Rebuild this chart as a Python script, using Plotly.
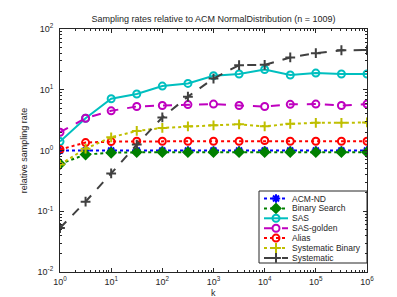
import numpy as np
import plotly.graph_objects as go

k = [1, 3.1623, 10, 31.623, 100, 316.23, 1000, 3162.3, 1e4, 31623, 1e5, 316228, 1e6]

acm_nd = [1.0, 1.0, 1.0, 1.0, 1.0, 1.0, 1.0, 1.0, 1.0, 1.0, 1.0, 1.0, 1.0]
binary_search = [0.6, 0.86, 0.92, 0.94, 0.94, 0.94, 0.94, 0.94, 0.94, 0.94, 0.94, 0.94, 0.94]
sas = [1.4, 3.4, 7.1, 8.5, 11.5, 12.7, 17.0, 18.2, 21.5, 17.5, 18.8, 18.2, 18.2]
sas_golden = [2.0, 3.4, 4.5, 5.3, 5.5, 5.7, 5.8, 5.5, 5.3, 5.75, 5.8, 5.5, 5.8]
alias = [1.04, 1.35, 1.4, 1.42, 1.42, 1.42, 1.42, 1.42, 1.46, 1.42, 1.42, 1.42, 1.42]
systematic_binary = [0.59, 1.07, 1.65, 2.1, 2.35, 2.5, 2.6, 2.7, 2.5, 2.75, 2.85, 2.85, 2.9]
systematic = [0.053, 0.144, 0.42, 1.25, 3.5, 7.7, 15.3, 25.4, 25.7, 34, 40, 44.7, 45]

series = [
    ("ACM-ND", acm_nd, "#0000FF", "dot", "asterisk-open"),
    ("Binary Search", binary_search, "#008000", "dot", "diamond"),
    ("SAS", sas, "#00BFBF", "solid", "circle-open"),
    ("SAS-golden", sas_golden, "#BF00BF", "dash", "circle-open"),
    ("Alias", alias, "#FF0000", "dot", "circle-open"),
    ("Systematic Binary", systematic_binary, "#BFBF00", "dot", "cross-thin-open"),
    ("Systematic", systematic, "#404040", "dash", "cross-thin-open"),
]

W, H = 397, 297
L, R, T, B = 52, 359, 21, 264

fig = go.Figure()
for name, vals, col, dash, sym in series:
    fig.add_trace(go.Scatter(
        x=k, y=vals, name=name, mode="lines+markers", showlegend=False,
        line=dict(color=col, width=2, dash=dash),
        marker=dict(symbol=sym, size=7, color=col, line=dict(color=col, width=2)),
    ))

# custom compact legend drawn in an overlay axis measured in pixels
LG_X0, LG_X1, LG_Y0, LG_Y1 = 251, 359, 183, 255
fig.add_shape(type="rect", xref="x2", yref="y2", x0=LG_X0, x1=LG_X1, y0=LG_Y0, y1=LG_Y1,
              line=dict(color="#262626", width=1), fillcolor="white", layer="below")
row0, rowstep = 190.5, 9.9
for i, (name, vals, col, dash, sym) in enumerate(series):
    yy = row0 + i * rowstep
    fig.add_trace(go.Scatter(
        x=[256, 268, 280], y=[yy, yy, yy], mode="lines", showlegend=False,
        xaxis="x2", yaxis="y2", hoverinfo="skip",
        line=dict(color=col, width=2, dash=dash),
    ))
    fig.add_trace(go.Scatter(
        x=[268], y=[yy], mode="markers", showlegend=False,
        xaxis="x2", yaxis="y2", hoverinfo="skip",
        marker=dict(symbol=sym, size=7, color=col, line=dict(color=col, width=2)),
    ))
    fig.add_annotation(x=283, y=yy, xref="x2", yref="y2", text=name, showarrow=False,
                       xanchor="left", yanchor="middle", borderpad=0,
                       font=dict(size=8.5, color="#262626"))

# x axis label placed just under the tick labels, as in the reference
fig.add_annotation(x=0.5, y=-(285 - B) / (B - T), xref="paper", yref="paper", text="k",
                   showarrow=False, xanchor="center", yanchor="middle", borderpad=0,
                   font=dict(size=9, color="#262626"))

font = "Liberation Sans, Arial, sans-serif"
axcol = "#262626"
xt = [10**i for i in range(7)]
yt = [10**i for i in range(-2, 3)]
xminor = [m * 10**d for d in range(0, 6) for m in range(2, 10)]
yminor = [m * 10**d for d in range(-2, 2) for m in range(2, 10)]

fig.update_layout(
    width=W, height=H,
    margin=dict(l=L, r=W - R, t=T, b=H - B, autoexpand=False),
    paper_bgcolor="white", plot_bgcolor="white",
    font=dict(family=font, size=9, color=axcol),
    title=dict(text="Sampling rates relative to ACM NormalDistribution (n = 1009)",
               x=(L + R) / 2 / W, xanchor="center", y=1 - 11 / H, yanchor="middle",
               font=dict(size=9, color=axcol)),
    xaxis=dict(
        type="log", range=[0, 6], tickvals=xt,
        ticktext=[f"10<sup>{i}</sup>" for i in range(7)],
        ticks="inside", ticklen=4, tickcolor=axcol, showline=True, linecolor=axcol,
        linewidth=1, mirror="ticks", showgrid=False, zeroline=False,
        minor=dict(tickvals=xminor, ticks="inside", ticklen=2, tickcolor=axcol, showgrid=False),
        tickfont=dict(size=9, color=axcol), ticklabelstandoff=1,
    ),
    yaxis=dict(
        type="log", range=[-2, 2], tickvals=yt,
        ticktext=[f"10<sup>{i}</sup>" for i in range(-2, 3)],
        ticks="inside", ticklen=4, tickcolor=axcol, showline=True, linecolor=axcol,
        linewidth=1, mirror="ticks", showgrid=False, zeroline=False,
        minor=dict(tickvals=yminor, ticks="inside", ticklen=2, tickcolor=axcol, showgrid=False),
        title=dict(text="relative sampling rate", font=dict(size=9, color=axcol), standoff=8),
        tickfont=dict(size=9, color=axcol), ticklabelstandoff=4,
    ),
    xaxis2=dict(domain=[0, 1], range=[L, R], overlaying="x", anchor="y2",
                visible=False, fixedrange=True),
    yaxis2=dict(domain=[0, 1], range=[B, T], overlaying="y", anchor="x2",
                visible=False, fixedrange=True),
    showlegend=False,
)

fig.write_html("out.html")
